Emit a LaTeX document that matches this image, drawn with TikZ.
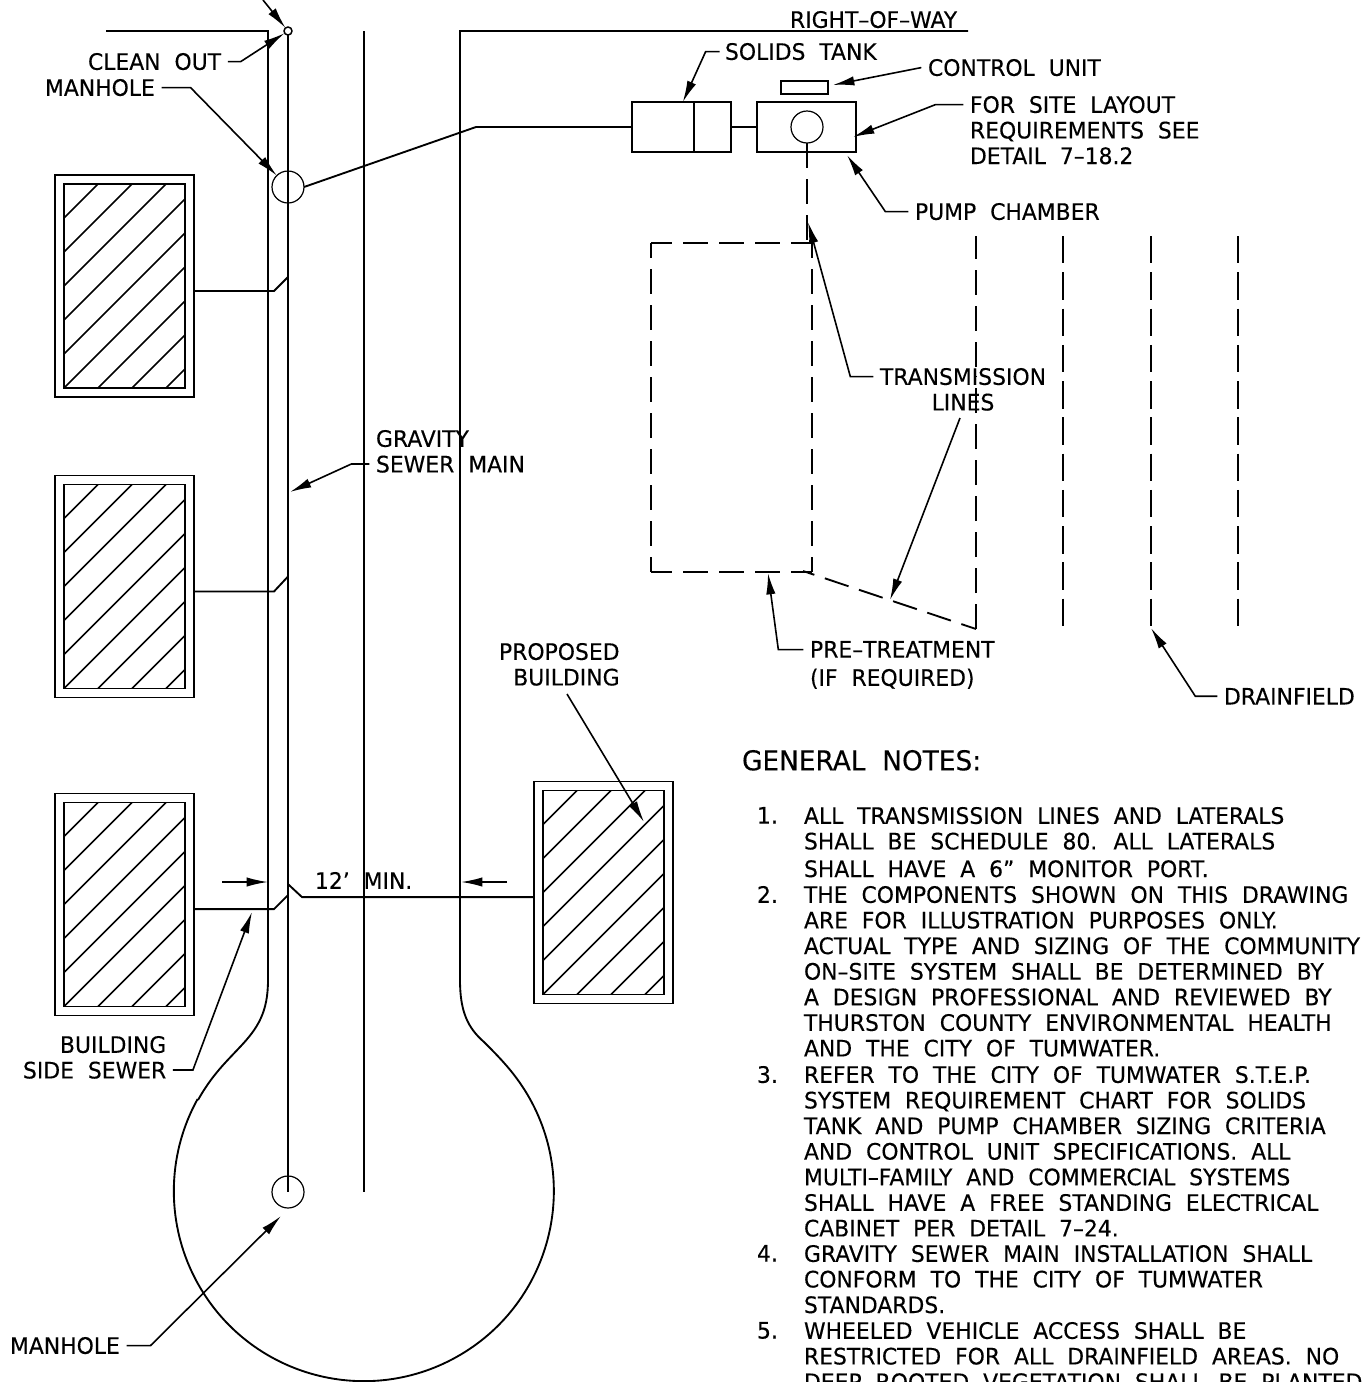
\documentclass[tikz,border=0pt]{standalone}
\usepackage{fontspec}
\setmainfont{DejaVu Sans}[FakeStretch=0.965,WordSpace=2,FakeBold=0.25]
\usetikzlibrary{positioning,arrows.meta}

\begin{document}
\begin{tikzpicture}[
        x=0.75pt,y=0.75pt,
        line width=1.4pt,
        label_style/.style={inner sep=0pt, outer sep=0pt, anchor=north west, align=left, font=\fontsize{17}{19.2}\selectfont},
        note_style/.style={label_style},
        box_style/.style={draw=black, inner sep=0pt, outer sep=0pt},
        building_style/.style={box_style, minimum width=104.25pt, minimum height=166.5pt},
        hole_style/.style={draw=black, circle, line width=0.9pt, minimum size=24pt, inner sep=0pt, outer sep=0pt},
        leader_style/.style={line width=1.2pt, -{Latex[length=16pt,width=7pt]}},
        dash_style/.style={dash pattern=on 18.75pt off 8.25pt},
        field_style/.style={dash pattern=on 20.6pt off 6.6pt}
    ]
    \useasboundingbox (0,0) rectangle (1366,-1382);
    \clip (0,0) rectangle (1366,-1382);

    % Right-of-way and mains
    \draw (106,-31) -- (268,-31) -- (268,-980) .. controls (268,-1012) and (258,-1028) .. (240,-1047)
        .. controls (226,-1062) and (212,-1075) .. (198,-1100);
    \draw (968,-31) -- (460,-31) -- (460,-980) .. controls (460,-1012) and (468,-1028) .. (484,-1042)
        .. controls (500,-1058) and (516,-1074) .. (530,-1099) arc[start angle=29, delta angle=-238, radius=190];
    \node[hole_style, line width=1.1pt, minimum size=6pt] (CO) at (288,-31) {};
    \node[hole_style] (MH1) at (288,-187) {};
    \node[hole_style] (MH2) at (288,-1192) {};
    \draw (CO.south) -- (MH2.center);
    \draw (364,-31) -- (364,-1192);

    % Buildings
    \foreach \bname/\bx/\by in {B1/124.5/-286, B2/124.5/-586.5, B3/124.5/-904.5, B4/603.5/-892.5} {
        \node[building_style] (\bname) at (\bx,\by) {};
        \node[building_style, minimum width=90.75pt, minimum height=153pt] (\bname in) at (\bx,\by) {};
        \begin{scope}
            \clip (\bname in.south west) rectangle (\bname in.north east);
            \foreach \k in {1,...,9}
                \draw[line width=1.1pt] ([yshift=-34*0.75pt*\k]\bname in.north west) -- ([xshift=34*0.75pt*\k]\bname in.north west);
        \end{scope}
    }

    % Side sewers
    \draw ([yshift=-3.75pt]B1.east) -- ++(80,0) -- ++(14,14);
    \draw ([yshift=-3.75pt]B2.east) -- ++(80,0) -- ++(14,15);
    \draw ([yshift=-3.45pt]B3.east) -- ++(80,0) -- ++(14,14);
    \draw ([yshift=-3.45pt]B4.west) -- ++(-232,0) -- ++(-14,13);

    % Tank, pump chamber and control unit
    \node[box_style, minimum width=74.25pt, minimum height=37.5pt] (TANK) at (681.5,-127) {};
    \draw (694,-102) -- (694,-152);
    \node[box_style, minimum width=74.25pt, minimum height=37.5pt] (PUMP) at (806.5,-127) {};
    \node[box_style, minimum width=35.25pt, minimum height=9.75pt] (CTRL) at (804.5,-87.5) {};
    \node[hole_style] (PUMPH) at (807,-127) {};
    \draw (MH1.east) -- (476,-127) -- (TANK.west);
    \draw (TANK) -- (PUMP);

    % Pre-treatment, transmission lines and drainfield
    \node[inner sep=0pt, outer sep=0pt, minimum width=120.75pt, minimum height=246.75pt] (PRE) at (731.5,-407.5) {};
    \draw[dash_style, dash phase=3pt] (PRE.north west) -- (PRE.north east);
    \draw[dash_style, dash phase=3pt] (PRE.south west) -- (PRE.south east);
    \draw[dash_style, dash phase=7.5pt] (PRE.north west) -- (PRE.south west);
    \draw[dash_style, dash phase=7.5pt] (PRE.north east) -- (PRE.south east);
    \draw[dash_style] (PUMPH.south) -- (807,-243);
    \coordinate (T1) at (803,-571);
    \coordinate (T2) at (976,-629);
    \draw[dash_style, dash phase=9.75pt] (T1) -- (T2);
    \coordinate (D1a) at (976,-236);
    \coordinate (D1m) at (976,-376);
    \coordinate (D1b) at (976,-629);
    \draw[dash_style, dash phase=1.5pt] (D1a) -- (D1m);
    \draw[dash_style] (D1b) -- (D1m);
    \foreach \d/\x in {D2/1063, D3/1151, D4/1238} {
        \coordinate (\d a) at (\x,-236);
        \coordinate (\d b) at (\x,-628);
        \draw[field_style] (\d a) -- (\d b);
    }

    % Labels
    \node[label_style] (ROW) at (790,-11) {RIGHT--OF--WAY};
    \node[label_style] (CLEAN) at (88,-53) {CLEAN OUT};
    \node[label_style] (MANA) at (45,-79) {MANHOLE};
    \node[label_style] (SOLIDS) at (725,-43) {SOLIDS TANK};
    \node[label_style] (CONTROL) at (928,-59) {CONTROL UNIT};
    \node[label_style] (SITE) at (970,-96) {FOR SITE LAYOUT\\REQUIREMENTS SEE\\DETAIL 7--18.2};
    \node[label_style] (CHAMBER) at (915,-203) {PUMP CHAMBER};
    \node[label_style, align=center] (TRANS) at (880,-368) {TRANSMISSION\\LINES};
    \node[label_style] (GRAV) at (376,-430) {GRAVITY\\SEWER MAIN};
    \node[label_style] (TREAT) at (810,-641) {PRE--TREATMENT\\[2pt](IF REQUIRED)};
    \node[label_style] (FIELD) at (1224,-688) {DRAINFIELD};
    \node[label_style, align=right] (PROP) at (499,-643) {PROPOSED\\BUILDING};
    \node[label_style, align=right] (SIDE) at (23,-1036) {BUILDING\\SIDE SEWER};
    \node[label_style] (MANB) at (10,-1337) {MANHOLE};
    \node[label_style] (MIN) at (315,-872) {12’ MIN.};

    % Leaders
    \coordinate (top) at (263,0);
    \coordinate (MH2tip) at (281,-1216);
    \draw[leader_style] (top) -- (CO);
    \draw[leader_style] ([xshift=5pt]CLEAN.east) -- ++(13,0) -- (CO);
    \draw[leader_style] ([xshift=5pt]MANA.east) -- ++(29,0) -- (MH1);
    \draw[leader_style] ([xshift=-4pt]SOLIDS.west) -- ++(-14,0) -- ([xshift=1pt]TANK.north);
    \draw[leader_style] ([xshift=-5pt]CONTROL.west) -- (833,-85);
    \draw[leader_style] ([xshift=-5pt,yshift=-6.5pt]SITE.north west) -- ++(-28,0) -- (853,-137);
    \draw[leader_style] ([xshift=-5pt]CHAMBER.west) -- ++(-23,0) -- (847,-155);
    \draw[leader_style] ([xshift=-5pt,yshift=-6.5pt]TRANS.north west) -- ++(-23,0) -- (808,-222);
    \draw[leader_style] (960,-418) -- (890,-600);
    \draw[leader_style] ([xshift=-5pt,yshift=-25.5pt]GRAV.north west) -- ++(-18,0) -- (290,-492);
    \draw[leader_style] ([xshift=-5pt,yshift=-6.5pt]TREAT.north west) -- ++(-25,0) -- (768,-573);
    \draw[leader_style] ([xshift=-5pt]FIELD.west) -- ++(-22,0) -- (D3b);
    \draw[leader_style] (567,-694) -- (644,-822);
    \draw[leader_style] ([xshift=5pt,yshift=-25.5pt]SIDE.north east) -- ++(20,0) -- (252,-912);
    \draw[leader_style] ([xshift=5pt]MANB.east) -- ++(24,0) -- (MH2tip);
    \coordinate (dimL) at (222,-882);
    \coordinate (dimR) at (507,-882);
    \draw[leader_style] (dimL) -- (268,-882);
    \draw[leader_style] (dimR) -- (461,-882);

    % Notes
    \node[label_style, font=\fontsize{20.5}{22}\selectfont] (GEN) at (742,-750) {GENERAL NOTES:};
    \node[note_style] (N1) at (757,-807) {1.};
    \node[note_style] (T1N) at (804,-807) {ALL TRANSMISSION LINES AND LATERALS\\SHALL BE SCHEDULE 80. ALL LATERALS\\[1.5pt]SHALL HAVE A 6” MONITOR PORT.};
    \node[note_style] (N2) at (757,-886) {2.};
    \node[note_style] (T2N) at (804,-886) {THE COMPONENTS SHOWN ON THIS DRAWING\\ARE FOR ILLUSTRATION PURPOSES ONLY.\\ACTUAL TYPE AND SIZING OF THE COMMUNITY\\ON--SITE SYSTEM SHALL BE DETERMINED BY\\A DESIGN PROFESSIONAL AND REVIEWED BY\\THURSTON COUNTY ENVIRONMENTAL HEALTH\\AND THE CITY OF TUMWATER.};
    \node[note_style] (N3) at (757,-1066) {3.};
    \node[note_style] (T3N) at (804,-1066) {REFER TO THE CITY OF TUMWATER S.T.E.P.\\SYSTEM REQUIREMENT CHART FOR SOLIDS\\TANK AND PUMP CHAMBER SIZING CRITERIA\\AND CONTROL UNIT SPECIFICATIONS. ALL\\MULTI--FAMILY AND COMMERCIAL SYSTEMS\\SHALL HAVE A FREE STANDING ELECTRICAL\\CABINET PER DETAIL 7--24.};
    \node[note_style] (N4) at (757,-1245) {4.};
    \node[note_style] (T4N) at (804,-1245) {GRAVITY SEWER MAIN INSTALLATION SHALL\\CONFORM TO THE CITY OF TUMWATER\\STANDARDS.};
    \node[note_style] (N5) at (757,-1322) {5.};
    \node[note_style] (T5N) at (804,-1322) {WHEELED VEHICLE ACCESS SHALL BE\\RESTRICTED FOR ALL DRAINFIELD AREAS. NO\\DEEP ROOTED VEGETATION SHALL BE PLANTED};
\end{tikzpicture}
\end{document}
